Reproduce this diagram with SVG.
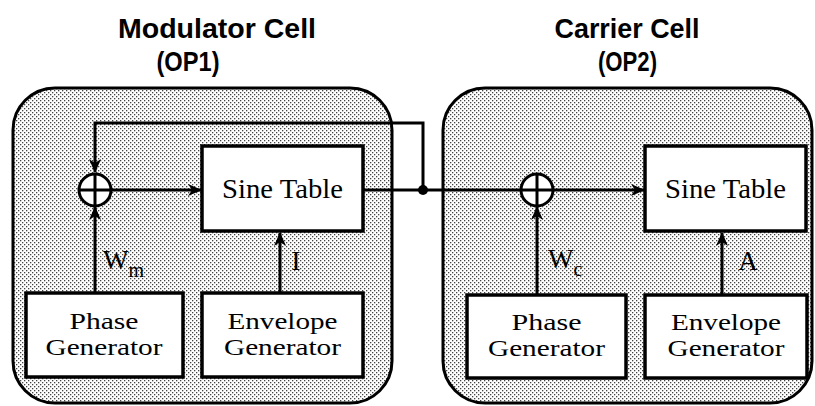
<svg xmlns="http://www.w3.org/2000/svg" width="815" height="406" viewBox="0 0 815 406">
<style>
.cell{fill:url(#dots);stroke:#000;stroke-width:3}
.box{fill:#fff;stroke:#000;stroke-width:3.5}
.sum{fill:#fff;stroke:#000;stroke-width:3}
.lbl{font-family:"Liberation Serif",serif;font-size:27px;text-anchor:middle;fill:#000}
.lbl2{font-family:"Liberation Serif",serif;font-size:24px;text-anchor:middle;fill:#000}
.sym{font-family:"Liberation Serif",serif;font-size:27px;fill:#000}
.title{font-family:"Liberation Sans",Arial,sans-serif;font-weight:bold;font-size:28px;text-anchor:middle;fill:#000}
.wire{fill:none;stroke:#000;stroke-width:3}
.arrow{marker-end:url(#arr)}
</style>
<defs>
<pattern id="dots" width="4" height="4" patternUnits="userSpaceOnUse">
<rect width="4" height="4" fill="#fff"/>
<rect x="0" y="0" width="1.3" height="1.3" fill="#444"/>
<rect x="2" y="2" width="1.3" height="1.3" fill="#444"/>
</pattern>
<marker id="arr" markerUnits="userSpaceOnUse" markerWidth="16" markerHeight="14" refX="14" refY="7" orient="auto" viewBox="0 0 16 14">
<path d="M15,7 L1,1 L5,7 L1,13 Z" fill="#000"/>
</marker>
</defs>

<g id="title-modulator">
<text class="title" x="217" y="38" textLength="198" lengthAdjust="spacingAndGlyphs">Modulator Cell</text>
<text class="title" x="188" y="71" textLength="63" lengthAdjust="spacingAndGlyphs">(OP1)</text>
</g>
<g id="title-carrier">
<text class="title" x="627" y="38" textLength="145" lengthAdjust="spacingAndGlyphs">Carrier Cell</text>
<text class="title" x="627.5" y="71" textLength="59" lengthAdjust="spacingAndGlyphs">(OP2)</text>
</g>

<g id="modulator-cell">
<rect class="cell" x="13" y="88" width="379" height="315" rx="42" ry="42"/>
</g>
<g id="carrier-cell">
<rect class="cell" x="443" y="88" width="369" height="315" rx="42" ry="42"/>
</g>

<g id="connectors">
<path class="wire" d="M363,190 H537"/>
<path class="wire arrow" d="M423,190 V123 H95 V172"/>
<path class="wire arrow" d="M95,293 V207"/>
<path class="wire arrow" d="M111,190 H201"/>
<path class="wire arrow" d="M280,293 V233"/>
<path class="wire arrow" d="M553,190 H644"/>
<path class="wire arrow" d="M537,295 V207"/>
<path class="wire arrow" d="M722,295 V233"/>
<circle cx="423" cy="190" r="5" fill="#000"/>
<text class="sym" x="103" y="269">W<tspan font-size="20" dy="8">m</tspan></text>
<text class="lbl" x="296" y="270">I</text>
<text class="sym" x="548" y="268">W<tspan font-size="20" dy="8">c</tspan></text>
<text class="lbl" x="748" y="270">A</text>
</g>

<g id="sum1">
<circle class="sum" cx="95" cy="190" r="16"/>
<path class="wire" d="M79,190 H111 M95,174 V206"/>
</g>
<g id="sine1">
<rect class="box" x="202" y="146" width="161" height="85"/>
<text class="lbl" x="282.5" y="198" textLength="121" lengthAdjust="spacingAndGlyphs">Sine Table</text>
</g>
<g id="phase1">
<rect class="box" x="26" y="293" width="157" height="84"/>
<text class="lbl2" x="104" y="329" textLength="69" lengthAdjust="spacingAndGlyphs">Phase</text>
<text class="lbl2" x="104" y="355" textLength="117" lengthAdjust="spacingAndGlyphs">Generator</text>
</g>
<g id="env1">
<rect class="box" x="202" y="293" width="161" height="84"/>
<text class="lbl2" x="282.5" y="329" textLength="110" lengthAdjust="spacingAndGlyphs">Envelope</text>
<text class="lbl2" x="282.5" y="355" textLength="117" lengthAdjust="spacingAndGlyphs">Generator</text>
</g>

<g id="sum2">
<circle class="sum" cx="537" cy="190" r="16"/>
<path class="wire" d="M521,190 H553 M537,174 V206"/>
</g>
<g id="sine2">
<rect class="box" x="645" y="146" width="161" height="85"/>
<text class="lbl" x="725.5" y="198" textLength="121" lengthAdjust="spacingAndGlyphs">Sine Table</text>
</g>
<g id="phase2">
<rect class="box" x="467" y="295" width="159" height="83"/>
<text class="lbl2" x="546.5" y="330" textLength="70" lengthAdjust="spacingAndGlyphs">Phase</text>
<text class="lbl2" x="546.5" y="356" textLength="117" lengthAdjust="spacingAndGlyphs">Generator</text>
</g>
<g id="env2">
<rect class="box" x="645" y="295" width="162" height="83"/>
<text class="lbl2" x="726" y="330" textLength="110" lengthAdjust="spacingAndGlyphs">Envelope</text>
<text class="lbl2" x="726" y="356" textLength="117" lengthAdjust="spacingAndGlyphs">Generator</text>
</g>
</svg>
